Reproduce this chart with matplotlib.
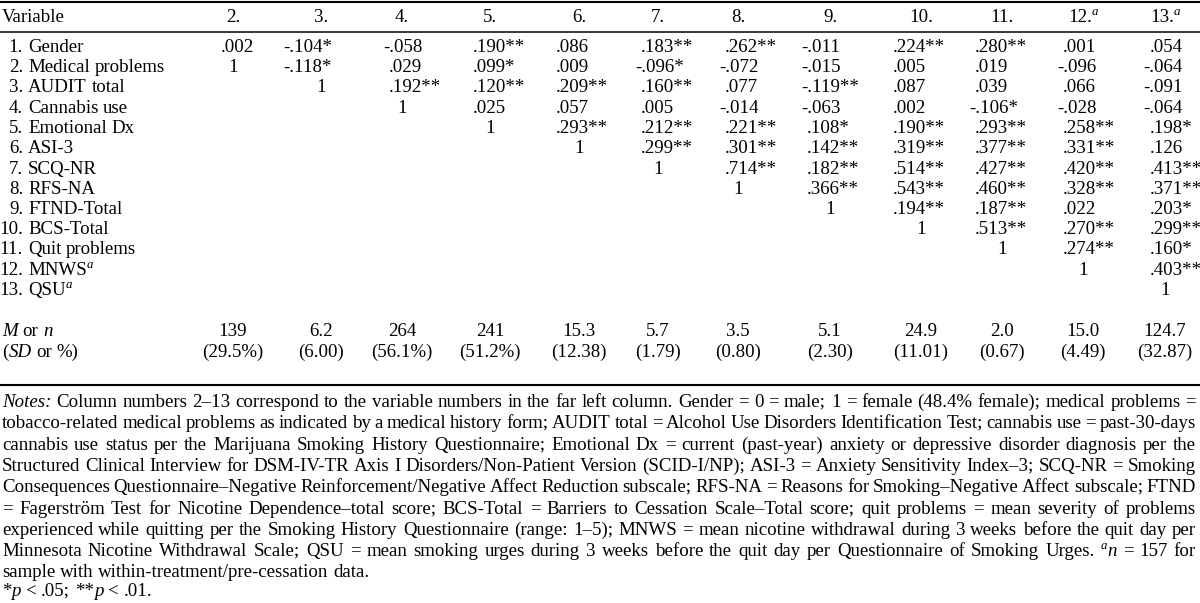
import matplotlib.pyplot as plt
from matplotlib.font_manager import FontProperties
from matplotlib.backends.backend_agg import get_hinting_flag

# Times 风格的衬线字体
plt.rcParams['font.family'] = ['Liberation Serif', 'DejaVu Serif']

# ---- 表格数据 ----
col_labels = ['2.', '3.', '4.', '5.', '6.', '7.', '8.', '9.', '10.', '11.', '12.^a', '13.^a']
row_labels = ['Gender', 'Medical problems', 'AUDIT total', 'Cannabis use', 'Emotional Dx',
              'ASI-3', 'SCQ-NR', 'RFS-NA', 'FTND-Total', 'BCS-Total', 'Quit problems',
              'MNWS^a', 'QSU^a']

row1 = ['.002', '-.104*', '-.058', '.190**', '.086', '.183**', '.262**', '-.011', '.224**', '.280**', '.001', '.054']
row2 = ['1', '-.118*', '.029', '.099*', '.009', '-.096*', '-.072', '-.015', '.005', '.019', '-.096', '-.064']
row3 = ['1', '.192**', '.120**', '.209**', '.160**', '.077', '-.119**', '.087', '.039', '.066', '-.091']
row4 = ['1', '.025', '.057', '.005', '-.014', '-.063', '.002', '-.106*', '-.028', '-.064']
row5 = ['1', '.293**', '.212**', '.221**', '.108*', '.190**', '.293**', '.258**', '.198*']
row6 = ['1', '.299**', '.301**', '.142**', '.319**', '.377**', '.331**', '.126']
row7 = ['1', '.714**', '.182**', '.514**', '.427**', '.420**', '.413**']
row8 = ['1', '.366**', '.543**', '.460**', '.328**', '.371**']
row9 = ['1', '.194**', '.187**', '.022', '.203*']
row10 = ['1', '.513**', '.270**', '.299**']
row11 = ['1', '.274**', '.160*']
row12 = ['1', '.403**']
row13 = ['1']
corr_rows = [row1, row2, row3, row4, row5, row6, row7, row8, row9, row10, row11, row12, row13]

mean_vals = ['139', '6.2', '264', '241', '15.3', '5.7', '3.5', '5.1', '24.9', '2.0', '15.0', '124.7']
sd_vals = ['(29.5%)', '(6.00)', '(56.1%)', '(51.2%)', '(12.38)', '(1.79)', '(0.80)', '(2.30)',
           '(11.01)', '(0.67)', '(4.49)', '(32.87)']

# 注释（_斜体_，^上标）
notes = [
    "_Notes:_ Column numbers 2–13 correspond to the variable numbers in the far left column. Gender = 0 = male; 1 = female (48.4% female); medical problems =",
    "tobacco-related medical problems as indicated by a medical history form; AUDIT total = Alcohol Use Disorders Identification Test; cannabis use = past-30-days",
    "cannabis use status per the Marijuana Smoking History Questionnaire; Emotional Dx = current (past-year) anxiety or depressive disorder diagnosis per the",
    "Structured Clinical Interview for DSM-IV-TR Axis I Disorders/Non-Patient Version (SCID-I/NP); ASI-3 = Anxiety Sensitivity Index–3; SCQ-NR = Smoking",
    "Consequences Questionnaire–Negative Reinforcement/Negative Affect Reduction subscale; RFS-NA = Reasons for Smoking–Negative Affect subscale; FTND",
    "= Fagerström Test for Nicotine Dependence–total score; BCS-Total = Barriers to Cessation Scale–Total score; quit problems = mean severity of problems",
    "experienced while quitting per the Smoking History Questionnaire (range: 1–5); MNWS = mean nicotine withdrawal during 3 weeks before the quit day per",
    "Minnesota Nicotine Withdrawal Scale; QSU = mean smoking urges during 3 weeks before the quit day per Questionnaire of Smoking Urges. ^a_n_ = 157 for",
    "sample with within-treatment/pre-cessation data.",
]
sig_note = "*_p_ < .05; **_p_ < .01."

# ---- 版面 ----
W, H = 1200, 603
FS = 13.6
col_cx = [233, 321, 402, 490, 579, 658, 738, 830, 921, 1002, 1083, 1165]
col_dot = [221, 290, 389, 473, 556, 641, 725, 807, 893, 975, 1063, 1150]
header_y = 22
row_y0, row_dy = 52, 20.25
mean_y, sd_y = 336, 357
note_y0, note_dy = 407, 21.3

fig = plt.figure(figsize=(12, 6.03), dpi=100, facecolor='white')
ax = fig.add_axes([0, 0, 1, 1])
ax.set_xlim(0, W)
ax.set_ylim(H, 0)
ax.axis('off')
renderer = fig.canvas.get_renderer()


def style(kind):
    if kind == 's':
        return dict(fontsize=FS * 0.68, fontstyle='italic')
    return dict(fontsize=FS, fontstyle='italic' if kind == 'i' else 'normal')


def piece_w(s, kind):
    t = ax.text(0, 0, s, **style(kind))
    w = t.get_window_extent(renderer).width
    t.remove()
    return w


def snap_y(s, kind, target):
    # Agg 按位图下沿取整，带 ; 之类字符的词会上下差一两个像素，这里补偿
    try:
        st = style(kind)
        prop = FontProperties(family=plt.rcParams['font.family'],
                              size=st['fontsize'], style=st['fontstyle'])
        font = renderer._prepare_font(prop)
        font.set_text(s, 0, flags=get_hinting_flag())
        D = font.get_descent()
        h = font.get_width_height()[1]
        d = D / 64
        ymax = (h - D) / 64
        best = target
        for k in sorted(range(-3, 4), key=abs):
            yy = target + k
            b = round(yy + d) - h // 64 + int(ymax // 1)
            if b == target:
                best = yy
                break
        return best
    except Exception:
        return target


def put(x, y, s, kind='r'):
    ax.text(x, snap_y(s, kind, y), s, va='baseline', ha='left', **style(kind))


SPACE = piece_w('a a', 'r') - piece_w('aa', 'r')


def parse(word):
    pieces, buf, italic, i = [], '', False, 0
    while i < len(word):
        c = word[i]
        if c in '_^':
            if buf:
                pieces.append((buf, 'i' if italic else 'r'))
                buf = ''
            if c == '_':
                italic = not italic
            else:
                pieces.append((word[i + 1], 's'))
                i += 1
        else:
            buf += c
        i += 1
    if buf:
        pieces.append((buf, 'i' if italic else 'r'))
    return pieces


def draw(x, y, text, ha='left', right=None):
    y = round(y)
    words = [parse(w) for w in text.split(' ')]
    widths = [[piece_w(s, k) for s, k in w] for w in words]
    wsum = [sum(w) for w in widths]
    gap = SPACE
    if right is not None and len(words) > 1:
        gap = (right - x - sum(wsum)) / (len(words) - 1)
    total = sum(wsum) + gap * (len(words) - 1)
    if ha == 'center':
        x = x - total / 2
    elif ha == 'right':
        x = x - total
    for w, ws in zip(words, widths):
        for (s, k), pw in zip(w, ws):
            dy = -round(FS * 0.5) if k == 's' else 0
            put(x, y + dy, s, k)
            x += pw
        x += gap


MINUS = piece_w('-', 'r')

# 横线
ax.hlines(1.5, 0, W, color='black', lw=1.5)
ax.hlines(31.5, 0, W, color='black', lw=1.1)
ax.hlines(385, 0, W, color='black', lw=1.5)

# 表头
draw(2, header_y, 'Variable')
for cx, lab in zip(col_cx, col_labels):
    draw(cx, header_y, lab, ha='center')

# 相关系数
for i, (lab, vals) in enumerate(zip(row_labels, corr_rows)):
    y = round(row_y0 + i * row_dy)
    draw(23, y, f'{i + 1}.', ha='right')
    draw(28, y, lab)
    start = max(0, i - 1)
    for k, v in enumerate(vals):
        j = start + k
        if v == '1':
            draw(col_cx[j], y, v, ha='center')
        else:
            put(col_dot[j] - (MINUS if v.startswith('-') else 0), y, v)

# 均值 / 标准差
draw(2, mean_y, '_M_ or _n_')
draw(2, sd_y, '(_SD_ or %)')
for cx, m, s in zip(col_cx, mean_vals, sd_vals):
    draw(cx, mean_y, m, ha='center')
    draw(cx, sd_y, s, ha='center')

# 注释，两端对齐
for k, line in enumerate(notes):
    y = note_y0 + k * note_dy
    last = k == len(notes) - 1
    draw(2, y, line, right=None if last else 1196)
draw(2, 596, sig_note)

fig.savefig('out.png', dpi=100, facecolor='white')
